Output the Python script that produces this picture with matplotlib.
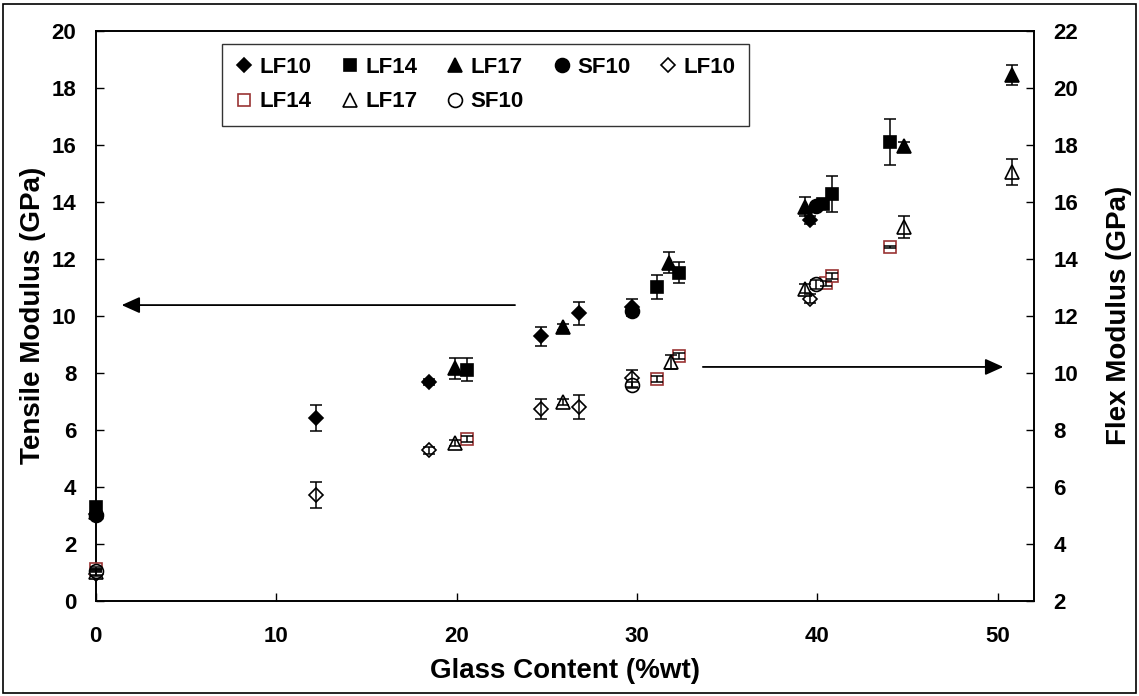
import matplotlib
matplotlib.use('Agg')
import matplotlib.pyplot as plt
from matplotlib.patches import Rectangle

plt.rcParams['font.family'] = ['Liberation Sans', 'DejaVu Sans']
plt.rcParams['font.weight'] = 'bold'

# tensile modulus (left axis, filled markers)
lf10_x = [0, 12.2, 18.5, 24.7, 26.8, 29.7, 39.6]
lf10_t = [3.05, 6.42, 7.67, 9.28, 10.08, 10.3, 13.35]
lf10_t_err = [0.1, 0.46, 0.1, 0.33, 0.4, 0.3, 0.15]

lf14_x = [0, 20.6, 31.1, 32.3, 40.3, 40.8, 44.0]
lf14_t = [3.3, 8.1, 11.0, 11.5, 13.9, 14.28, 16.1]
lf14_t_err = [0.05, 0.4, 0.43, 0.37, 0.1, 0.63, 0.8]

lf17_x = [0, 19.9, 25.9, 31.8, 39.3, 44.8, 50.8]
lf17_t = [3.1, 8.15, 9.6, 11.85, 13.82, 15.95, 18.45]
lf17_t_err = [0.1, 0.38, 0.12, 0.37, 0.33, 0.15, 0.35]

sf10_x = [0, 29.7, 39.9]
sf10_t = [3.0, 10.15, 13.85]
sf10_t_err = [0.1, 0.1, 0.1]

# flex modulus (right axis, open markers)
lf10_fx = [0, 12.2, 18.5, 24.7, 26.8, 29.7, 39.6]
lf10_f = [2.95, 5.7, 7.28, 8.72, 8.8, 9.8, 12.6]
lf10_f_err = [0.1, 0.45, 0.12, 0.35, 0.43, 0.3, 0.15]

lf14_fx = [0, 20.6, 31.1, 32.3, 40.5, 40.8, 44.0]
lf14_f = [3.12, 7.66, 9.77, 10.58, 13.13, 13.38, 14.41]
lf14_f_err = [0.05, 0.1, 0.1, 0.1, 0.1, 0.1, 0.05]

lf17_fx = [0, 19.9, 25.9, 31.9, 39.3, 44.8, 50.8]
lf17_f = [3.0, 7.54, 8.98, 10.38, 12.95, 15.11, 17.04]
lf17_f_err = [0.1, 0.1, 0.1, 0.25, 0.15, 0.4, 0.45]

sf10_fx = [0, 29.7, 39.9]
sf10_f = [3.05, 9.56, 13.1]
sf10_f_err = [0.05, 0.1, 0.15]

red = '#993333'

fig = plt.figure(figsize=(11.39, 6.96), dpi=100)
ax = fig.add_axes([0.084, 0.137, 0.8238, 0.819])
ax2 = ax.twinx()

def series(a, x, y, err, marker, ms, face, edge, label):
    h, = a.plot(x, y, linestyle='none', marker=marker, ms=ms, mfc=face,
                mec=edge, mew=1.2, label=label, zorder=3, clip_on=False)
    a.errorbar(x, y, yerr=err, fmt='none', ecolor='k', elinewidth=1.1,
               capsize=4, capthick=1.1, zorder=4, clip_on=False)
    return h

h1 = series(ax, lf10_x, lf10_t, lf10_t_err, 'D', 7, 'k', 'k', 'LF10')
h2 = series(ax, lf14_x, lf14_t, lf14_t_err, 's', 8.5, 'k', 'k', 'LF14')
h3 = series(ax, lf17_x, lf17_t, lf17_t_err, '^', 9.5, 'k', 'k', 'LF17')
h4 = series(ax, sf10_x, sf10_t, sf10_t_err, 'o', 10, 'k', 'k', 'SF10')

h5 = series(ax2, lf10_fx, lf10_f, lf10_f_err, 'D', 7, 'white', 'k', 'LF10')
h6 = series(ax2, lf14_fx, lf14_f, lf14_f_err, 's', 8, 'white', red, 'LF14')
h7 = series(ax2, lf17_fx, lf17_f, lf17_f_err, '^', 9.5, 'white', 'k', 'LF17')
h8 = series(ax2, sf10_fx, sf10_f, sf10_f_err, 'o', 10, 'white', 'k', 'SF10')

ax.set_xlim(0, 52)
ax.set_ylim(0, 20)
ax2.set_ylim(2, 22)
ax.set_xticks(range(0, 51, 10))
ax.set_yticks(range(0, 21, 2))
ax2.set_yticks(range(2, 23, 2))

ax.tick_params(axis='x', direction='in', length=6, width=1, labelsize=16, pad=18)
ax.tick_params(axis='y', direction='in', length=6, width=1, labelsize=16, pad=14)
ax2.tick_params(axis='y', direction='in', length=6, width=1, labelsize=16, pad=14)
for a in (ax, ax2):
    for s in a.spines.values():
        s.set_linewidth(1.2)

ax.set_xlabel('Glass Content (%wt)', fontsize=20, fontweight='bold', labelpad=8)
ax.set_ylabel('Tensile Modulus (GPa)', fontsize=20, fontweight='bold', labelpad=4)
ax2.set_ylabel('Flex Modulus (GPa)', fontsize=20, fontweight='bold', labelpad=20)

# arrows pointing to each axis
ax.annotate('', xy=(1.44, 10.37), xytext=(23.24, 10.37),
            arrowprops=dict(arrowstyle='-|>,head_length=1.0,head_width=0.45',
                            color='k', lw=1.3, shrinkA=0, shrinkB=0,
                            mutation_scale=11))
ax.annotate('', xy=(50.3, 8.2), xytext=(33.65, 8.2),
            arrowprops=dict(arrowstyle='-|>,head_length=1.0,head_width=0.45',
                            color='k', lw=1.3, shrinkA=0, shrinkB=0,
                            mutation_scale=11))

# legend filled column-wise, so interleave to get the two rows
handles = [h1, h6, h2, h7, h3, h8, h4, h5]
leg = ax2.legend(handles=handles, labels=[h.get_label() for h in handles],
                 ncol=5, loc='upper left', bbox_to_anchor=(0.1346, 0.977),
                 fontsize=16, frameon=True, fancybox=False, edgecolor='k',
                 handlelength=0.8, handletextpad=0.3, columnspacing=1.3,
                 borderpad=0.6, labelspacing=0.6, borderaxespad=0)
leg.get_frame().set_linewidth(1.0)

fig.patches.append(Rectangle((0.003, 0.004), 0.994, 0.99, transform=fig.transFigure,
                             fill=False, lw=1.2, ec='k'))

fig.savefig('out.png', dpi=100)
